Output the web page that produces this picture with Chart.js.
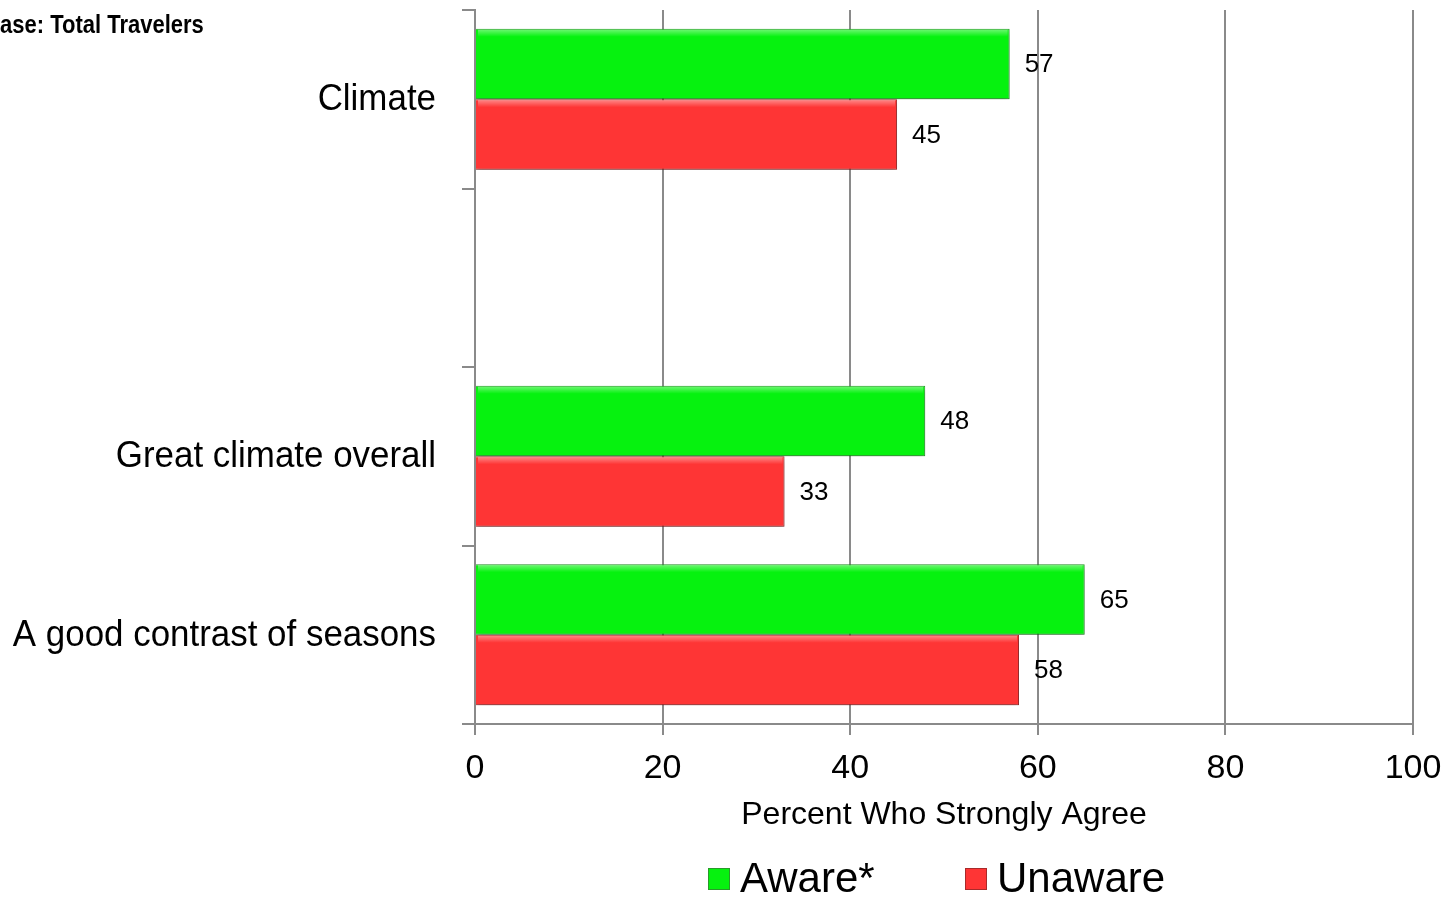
<!DOCTYPE html>
<html>
<head>
<meta charset="utf-8">
<script src="https://cdn.jsdelivr.net/npm/chart.js@4/dist/chart.umd.min.js"></script>
<style>
  html, body { margin: 0; padding: 0; background: #fff; }
  #wrap { width: 1450px; height: 898px; position: relative; }
</style>
</head>
<body>
<div id="wrap"><canvas id="climateChart" width="1450" height="898"></canvas></div>
<script>
const categories = ['Climate', '', 'Great climate overall', 'A good contrast of seasons'];
const awareValues = [57, null, 48, 65];
const unawareValues = [45, null, 33, 58];
const xTicks = [0, 20, 40, 60, 80, 100];
const seriesNames = ['Aware*', 'Unaware'];
const baseNote = 'Base: Total Travelers';

const sans = "'Liberation Sans', Arial, sans-serif";

// value labels to the right of each bar
const valueLabels = {
    id: 'valueLabels',
    afterDatasetsDraw(chart) {
        const ctx = chart.ctx;
        ctx.save();
        ctx.font = '26px ' + sans;
        ctx.fillStyle = '#000';
        ctx.textBaseline = 'middle';
        chart.data.datasets.forEach((ds, i) => {
            chart.getDatasetMeta(i).data.forEach((bar, j) => {
                if (ds.data[j] == null) return;
                ctx.fillText(ds.data[j], bar.x + 15, bar.y + 1);
            });
        });
        ctx.restore();
    }
};

// light top edge + soft shadow to fake the bevel
const bevel = {
    id: 'bevel',
    beforeDatasetsDraw(chart) {
        const ctx = chart.ctx;
        ctx.save();
        ctx.shadowColor = 'rgba(0,0,0,0.35)';
        ctx.shadowBlur = 6;
        ctx.shadowOffsetY = 3;
    },
    afterDatasetsDraw(chart) {
        const ctx = chart.ctx;
        ctx.restore();
        ctx.save();
        chart.data.datasets.forEach((ds, i) => {
            chart.getDatasetMeta(i).data.forEach((bar, j) => {
                if (ds.data[j] == null) return;
                const top = bar.y - bar.height / 2;
                const left = bar.base;
                const g = ctx.createLinearGradient(0, top, 0, top + 8);
                g.addColorStop(0, 'rgba(255,255,255,0.45)');
                g.addColorStop(1, 'rgba(255,255,255,0)');
                ctx.fillStyle = g;
                ctx.fillRect(left + 2, top + 1, bar.x - left - 4, 8);
            });
        });
        ctx.restore();
    }
};

// category labels (slightly condensed), custom legend, base note
const extras = {
    id: 'extras',
    afterDraw(chart) {
        const ctx = chart.ctx;
        const yScale = chart.scales.y;
        ctx.save();
        ctx.fillStyle = '#000';
        ctx.textBaseline = 'middle';

        ctx.font = '36px ' + sans;
        ctx.textAlign = 'right';
        categories.forEach((c, i) => {
            if (!c) return;
            const y = yScale.getPixelForTick(i);
            ctx.save();
            ctx.translate(436, y);
            ctx.scale(0.97, 1);
            ctx.fillText(c, 0, 1);
            ctx.restore();
        });

        ctx.textAlign = 'left';
        ctx.save();
        ctx.font = 'bold 25px ' + sans;
        ctx.scale(0.88, 1);
        const bw = ctx.measureText('B').width;
        ctx.fillText(baseNote, -bw, 26);
        ctx.restore();

        ctx.font = '42px ' + sans;
        const starts = [708, 965];
        chart.data.datasets.forEach((ds, i) => {
            const x = starts[i];
            const y = 879;
            ctx.fillStyle = ds.backgroundColor;
            ctx.fillRect(x, y - 11, 22, 22);
            ctx.strokeStyle = ds.borderColor;
            ctx.lineWidth = 1;
            ctx.strokeRect(x + 0.5, y - 10.5, 21, 21);
            ctx.fillStyle = '#000';
            ctx.fillText(ds.label, x + 32, y + 1);
        });
        ctx.restore();
    }
};

new Chart(document.getElementById('climateChart'), {
    type: 'bar',
    data: {
        labels: categories,
        datasets: [
            {
                label: seriesNames[0],
                data: awareValues,
                backgroundColor: '#06f20f',
                borderColor: '#2a9a2a',
                borderWidth: 1
            },
            {
                label: seriesNames[1],
                data: unawareValues,
                backgroundColor: '#fe3535',
                borderColor: '#a82a2a',
                borderWidth: 1
            }
        ]
    },
    options: {
        indexAxis: 'y',
        responsive: false,
        animation: false,
        categoryPercentage: 0.79,
        barPercentage: 1.0,
        layout: { padding: { top: 10, right: 37, bottom: 62, left: 0 } },
        plugins: {
            legend: { display: false },
            tooltip: { enabled: false }
        },
        scales: {
            y: {
                afterFit(scale) { scale.width = 475; },
                grid: {
                    offset: true,
                    drawOnChartArea: false,
                    tickLength: 13,
                    color: '#8a8a8a',
                    lineWidth: 2
                },
                border: { color: '#8a8a8a', width: 2 },
                ticks: { display: false }
            },
            x: {
                min: 0,
                max: 100,
                afterFit(scale) {
                    scale.height = 112;
                    scale.paddingLeft = 0;
                    scale.paddingRight = 0;
                },
                afterBuildTicks(scale) { scale.ticks = xTicks.map(v => ({ value: v })); },
                grid: {
                    color: '#8a8a8a',
                    lineWidth: 2,
                    tickLength: 11
                },
                border: { color: '#8a8a8a', width: 2 },
                ticks: {
                    color: '#000',
                    padding: 13,
                    font: { family: sans, size: 34 }
                },
                title: {
                    display: true,
                    text: 'Percent Who Strongly Agree',
                    color: '#000',
                    font: { family: sans, size: 32 },
                    padding: { top: 0, bottom: 2 }
                }
            }
        }
    },
    plugins: [bevel, valueLabels, extras]
});
</script>
</body>
</html>
